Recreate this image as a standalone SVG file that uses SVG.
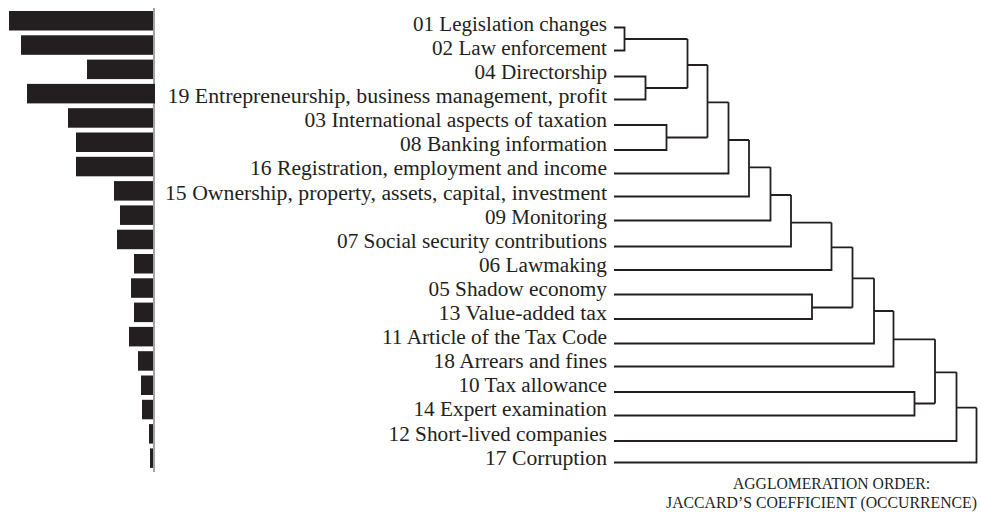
<svg xmlns="http://www.w3.org/2000/svg" width="981" height="517" viewBox="0 0 981 517">
<style>
.bg{fill:#ffffff}
.bar{fill:#231f20}
.axis{stroke:#8c8c8c;stroke-width:1.6;fill:none}
.lbl{font-family:"Liberation Serif","Times New Roman",serif;font-size:20.5px;fill:#231f20;text-anchor:end}
.cap{font-family:"Liberation Serif","Times New Roman",serif;font-size:16px;fill:#231f20;text-anchor:end}
.den{stroke:#231f20;stroke-width:1.8;fill:none;stroke-linejoin:miter}
</style>
<rect class="bg" x="0" y="0" width="981" height="517"/>
<line class="axis" x1="154" y1="8" x2="154" y2="472"/>
<g id="n01"><rect class="bar" x="9" y="11" width="144" height="19.5"/><text class="lbl" x="607" y="30.8" textLength="194" lengthAdjust="spacingAndGlyphs">01 Legislation changes</text></g>
<g id="n02"><rect class="bar" x="21" y="35.3" width="132" height="19.5"/><text class="lbl" x="607" y="54.9" textLength="175" lengthAdjust="spacingAndGlyphs">02 Law enforcement</text></g>
<g id="n04"><rect class="bar" x="87" y="59.6" width="66" height="19.5"/><text class="lbl" x="607" y="79" textLength="132.5" lengthAdjust="spacingAndGlyphs">04 Directorship</text></g>
<g id="n19"><rect class="bar" x="27" y="83.9" width="128" height="19.5"/><text class="lbl" x="607" y="103.1" textLength="439.5" lengthAdjust="spacingAndGlyphs">19 Entrepreneurship, business management, profit</text></g>
<g id="n03"><rect class="bar" x="68" y="108.2" width="85" height="19.5"/><text class="lbl" x="607" y="127.2" textLength="302.5" lengthAdjust="spacingAndGlyphs">03 International aspects of taxation</text></g>
<g id="n08"><rect class="bar" x="76" y="132.5" width="77" height="19.5"/><text class="lbl" x="607" y="151.3" textLength="207" lengthAdjust="spacingAndGlyphs">08 Banking information</text></g>
<g id="n16"><rect class="bar" x="76" y="156.8" width="77" height="19.5"/><text class="lbl" x="607" y="175.4" textLength="357" lengthAdjust="spacingAndGlyphs">16 Registration, employment and income</text></g>
<g id="n15"><rect class="bar" x="114" y="181.1" width="39" height="19.5"/><text class="lbl" x="607" y="199.5" textLength="442" lengthAdjust="spacingAndGlyphs">15 Ownership, property, assets, capital, investment</text></g>
<g id="n09"><rect class="bar" x="120" y="205.4" width="33" height="19.5"/><text class="lbl" x="607" y="223.6" textLength="122" lengthAdjust="spacingAndGlyphs">09 Monitoring</text></g>
<g id="n07"><rect class="bar" x="117" y="229.7" width="36" height="19.5"/><text class="lbl" x="607" y="247.7" textLength="270" lengthAdjust="spacingAndGlyphs">07 Social security contributions</text></g>
<g id="n06"><rect class="bar" x="134" y="254" width="19" height="19.5"/><text class="lbl" x="607" y="271.8" textLength="128" lengthAdjust="spacingAndGlyphs">06 Lawmaking</text></g>
<g id="n05"><rect class="bar" x="131" y="278.3" width="22" height="19.5"/><text class="lbl" x="607" y="295.9" textLength="178.5" lengthAdjust="spacingAndGlyphs">05 Shadow economy</text></g>
<g id="n13"><rect class="bar" x="134" y="302.6" width="19" height="19.5"/><text class="lbl" x="607" y="320" textLength="168.5" lengthAdjust="spacingAndGlyphs">13 Value-added tax</text></g>
<g id="n11"><rect class="bar" x="129" y="326.9" width="24" height="19.5"/><text class="lbl" x="607" y="344.1" textLength="225" lengthAdjust="spacingAndGlyphs">11 Article of the Tax Code</text></g>
<g id="n18"><rect class="bar" x="138" y="351.2" width="15" height="19.5"/><text class="lbl" x="607" y="368.2" textLength="173.5" lengthAdjust="spacingAndGlyphs">18 Arrears and fines</text></g>
<g id="n10"><rect class="bar" x="141" y="375.5" width="12" height="19.5"/><text class="lbl" x="607" y="392.3" textLength="148.5" lengthAdjust="spacingAndGlyphs">10 Tax allowance</text></g>
<g id="n14"><rect class="bar" x="142" y="399.8" width="11" height="19.5"/><text class="lbl" x="607" y="416.4" textLength="193.5" lengthAdjust="spacingAndGlyphs">14 Expert examination</text></g>
<g id="n12"><rect class="bar" x="149" y="424.1" width="4" height="19.5"/><text class="lbl" x="607" y="440.5" textLength="218.5" lengthAdjust="spacingAndGlyphs">12 Short-lived companies</text></g>
<g id="n17"><rect class="bar" x="150" y="448.4" width="3" height="19.5"/><text class="lbl" x="607" y="464.6" textLength="122" lengthAdjust="spacingAndGlyphs">17 Corruption</text></g>
<g id="connectors">
<path class="den" d="M614 27.5 H624.5 V50.5 H614 M624.5 39 H687.5"/>
<path class="den" d="M614 76.5 H645.5 V99.5 H614 M645.5 88 H687.5"/>
<path class="den" d="M687.5 39 V88 M687.5 65 H707.5"/>
<path class="den" d="M614 125 H666.5 V150 H614 M666.5 137.5 H707.5"/>
<path class="den" d="M707.5 65 V137.5 M707.5 102.3 H728.5"/>
<path class="den" d="M614 173.5 H728.5 V102.3 M728.5 140 H749"/>
<path class="den" d="M614 196.5 H749 V140 M749 167.3 H770.5"/>
<path class="den" d="M614 220.5 H770.5 V167.3 M770.5 195 H791"/>
<path class="den" d="M614 246.5 H791 V195 M791 222.7 H831.5"/>
<path class="den" d="M614 270 H831.5 V222.7 M831.5 247.3 H852.5"/>
<path class="den" d="M614 294.5 H812 V319 H614 M812 307.5 H852.5"/>
<path class="den" d="M852.5 247.3 V307.5 M852.5 278.3 H874"/>
<path class="den" d="M614 343.5 H874 V278.3 M874 311 H893.5"/>
<path class="den" d="M614 366.5 H893.5 V311 M893.5 339.3 H935"/>
<path class="den" d="M614 392 H914.5 V415.5 H614 M914.5 403.5 H935"/>
<path class="den" d="M935 339.3 V403.5 M935 372.3 H956.5"/>
<path class="den" d="M614 441 H956.5 V372.3 M956.5 407.7 H976.5"/>
<path class="den" d="M614 462.5 H976.5 V407.7"/>
</g>
<g id="caption">
<text class="cap" x="930" y="489" textLength="197" lengthAdjust="spacingAndGlyphs">AGGLOMERATION ORDER:</text>
<text class="cap" x="977" y="508" textLength="311" lengthAdjust="spacingAndGlyphs">JACCARD’S COEFFICIENT (OCCURRENCE)</text>
</g>
</svg>
